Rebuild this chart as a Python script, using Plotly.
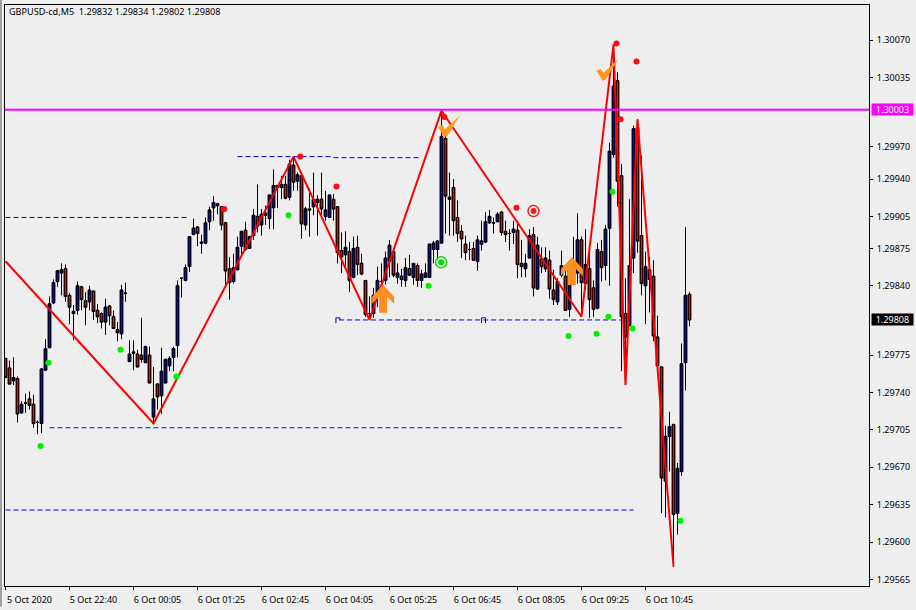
import plotly.graph_objects as go

# Prices are stored as points (1e-5) above 1.29000
opens = [772,763,751,753,721,730,734,729,712,711,
 761,782,824,844,852,856,831,816,817,839,
 826,825,835,817,814,806,821,811,799,795,
 833,769,778,776,775,768,775,717,748,737,
 749,765,773,784,847,845,858,888,895,881,
 880,900,913,917,914,899,856,844,855,877,
 892,875,887,905,897,908,903,913,932,932,
 935,923,953,938,943,897,912,914,921,921,
 905,904,921,914,873,869,872,848,876,861,
 845,814,814,830,844,845,863,872,848,849,
 845,856,848,859,845,848,848,874,874,880,
 978,923,932,904,891,879,874,875,863,879,
 881,899,899,900,909,891,889,890,892,861,
 856,866,888,837,865,856,864,836,825,850,
 849,818,861,852,883,842,856,838,819,872,
 859,894,963,1032,943,814,803,866,988,887,
 840,855,849,792,764,657,699,710,627,666,768,832]
highs = [772,770,773,755,732,739,741,738,714,763,
 790,830,846,855,861,860,833,822,844,840,
 834,840,835,823,815,828,822,817,806,841,
 843,789,789,780,810,784,783,764,748,782,
 772,774,783,845,848,860,886,903,896,888,
 904,914,924,917,914,900,867,870,886,891,
 900,887,912,935,912,915,925,949,934,943,
 943,958,961,946,945,914,931,946,925,946,
 929,925,926,914,890,891,881,886,887,870,
 845,830,838,858,861,872,883,873,861,856,
 866,869,861,861,855,861,879,882,883,1004,
 982,946,940,920,897,887,881,881,887,901,
 909,911,904,909,910,901,893,901,901,883,
 870,893,895,886,876,876,873,855,847,873,
 858,864,886,908,886,893,876,845,880,883,
 897,974,1066,1040,954,847,921,990,996,962,
 872,867,864,812,764,709,722,711,674,786,895,834]
lows = [754,748,747,712,720,721,724,707,701,702,
 761,782,823,839,831,825,804,789,813,817,
 803,817,808,805,800,794,803,800,788,790,
 825,769,761,764,768,768,749,711,724,720,
 749,760,760,773,829,844,853,888,877,870,
 879,892,901,907,892,841,827,842,855,869,
 873,875,883,890,887,897,893,893,913,921,
 921,920,929,929,884,892,886,906,887,906,
 901,904,901,861,852,855,834,847,850,850,
 811,808,810,820,827,841,848,848,842,839,
 839,850,841,839,838,848,848,861,864,880,
 889,887,887,881,866,864,864,864,854,873,
 880,898,889,900,887,881,873,879,847,848,
 848,866,830,836,852,853,828,822,822,848,
 817,811,848,842,811,836,810,811,818,844,
 845,840,960,914,760,747,802,852,871,831,
 804,815,788,763,627,623,666,577,607,662,742,802]
closes = [754,748,754,720,729,730,728,711,712,762,
 781,823,843,854,855,830,820,814,840,827,
 820,836,816,811,806,820,812,800,796,836,
 833,776,777,764,771,783,749,734,736,760,
 771,772,781,840,847,857,886,894,889,880,
 899,911,918,915,897,854,843,857,876,891,
 874,886,906,896,907,906,925,934,934,935,
 922,954,937,944,898,912,911,921,918,912,
 911,925,912,871,867,876,845,875,860,851,
 813,814,831,845,844,866,878,850,852,846,
 857,850,861,845,851,852,879,880,882,980,
 924,921,901,889,884,871,874,864,883,882,
 900,905,899,907,890,888,889,893,860,858,
 861,887,838,878,858,866,837,827,844,859,
 817,855,852,883,843,860,827,818,874,857,
 893,966,1027,938,811,792,859,987,882,842,
 858,846,793,765,660,699,708,626,669,767,831,808]

zigzag_bar = [0,37,72,91,109,144,152,155,158,167]
zigzag_pts = [863,711,961,808,1004,811,1066,747,996,577]

red_dot_bar = [54.7,73.7,82.75,109.7,127.75,152.75,153.75,157.75]
red_dot_pts = [912,961,933,998,913,1067,996,1050]
green_dot_bar = [8.75,10.75,28.75,42.75,70.75,105.75,140.75,147.75,150.75,151.75,156.75,168.75]
green_dot_pts = [690,768,780,755,906,840,793,795,811,928,800,620]

# level, first bar, last bar
levels = [(904,0,45.5),(961,58,81.5),(960,82,104),(808,83.4,154),(707,11,154),(630,0,157)]
resistance = 1005
last_price = 808

time_ticks = [0,16,32,48,64,80,96,112,128,144,160]
time_labels = ["5 Oct 2020","5 Oct 22:40","6 Oct 00:05","6 Oct 01:25","6 Oct 02:45","6 Oct 04:05",
               "6 Oct 05:25","6 Oct 06:45","6 Oct 08:05","6 Oct 09:25","6 Oct 10:45"]
price_ticks = [1.30070,1.30035,1.29970,1.29940,1.29905,1.29875,1.29840,1.29775,1.29740,1.29705,
               1.29670,1.29635,1.29600,1.29565]

def pr(v):
    return 1.29 + v / 1e5

FONT = "Noto Sans"
bars = list(range(len(opens)))
O, H, L, C = [list(map(pr, a)) for a in (opens, highs, lows, closes)]
black = dict(color="#000000", width=1)

fig = go.Figure()
# wicks first, then the zigzag, then the bodies above it
fig.add_trace(go.Candlestick(x=bars, open=O, high=H, low=L, close=C, whiskerwidth=0,
    increasing=dict(line=black, fillcolor="#0000ff"),
    decreasing=dict(line=black, fillcolor="#ff0000")))
fig.add_trace(go.Scatter(x=zigzag_bar, y=list(map(pr, zigzag_pts)), mode="lines",
    line=dict(color="#ff0000", width=2)))
fig.add_trace(go.Candlestick(x=bars, open=O, close=C,
    high=[max(a, b) for a, b in zip(O, C)], low=[min(a, b) for a, b in zip(O, C)], whiskerwidth=0,
    increasing=dict(line=black, fillcolor="#0000ff"),
    decreasing=dict(line=black, fillcolor="#ff0000")))
for lv, a, b in levels:
    fig.add_trace(go.Scatter(x=[a, b], y=[pr(lv), pr(lv)], mode="lines",
        line=dict(color="#0000ff", width=1, dash="5px,3px")))
fig.add_trace(go.Scatter(x=[82.6, 82.6, 83.6, 83.6], y=[pr(805), pr(810), pr(810), pr(808)], mode="lines",
    line=dict(color="#0000ff", width=1)))
fig.add_trace(go.Scatter(x=[119, 119, 120, 120], y=[pr(805), pr(810), pr(810), pr(805)], mode="lines",
    line=dict(color="#0000ff", width=1)))
fig.add_trace(go.Scatter(x=red_dot_bar, y=list(map(pr, red_dot_pts)), mode="markers",
    marker=dict(color="#ff0a14", size=6)))
fig.add_trace(go.Scatter(x=green_dot_bar, y=list(map(pr, green_dot_pts)), mode="markers",
    marker=dict(color="#00f000", size=6)))
for bar, pts, col in [(108.9, 862, "#00e000"), (132, 910, "#f02020")]:
    fig.add_trace(go.Scatter(x=[bar], y=[pr(pts)], mode="markers",
        marker=dict(color="rgba(255,255,255,0.5)", size=11, line=dict(color=col, width=1.5))))
    fig.add_trace(go.Scatter(x=[bar], y=[pr(pts)], mode="markers",
        marker=dict(color=col, size=6)))

shapes = [dict(type="line", xref="paper", x0=0, x1=1, yref="y", y0=pr(resistance), y1=pr(resistance),
               line=dict(color="#ff00ff", width=2)),
          dict(type="rect", xref="paper", x0=-5/864, x1=-3/864, yref="paper", y0=-21/585, y1=1.01,
               fillcolor="#a0a0a0", line=dict(width=0), layer="below")]
arrow = "M0,0 L11,-12 L11,-19 L4,-12 L4,-28 L-4,-28 L-4,-12 L-11,-19 L-11,-12 Z"
check = "M-7,9 L-3,11 L0,7 L15,21 L2,0 L-1,-1 Z"
for bar, pts in [(94.4, 841), (141.6, 867)]:
    fig.add_shape(type="path", path=arrow, xsizemode="pixel", ysizemode="pixel", xref="x", yref="y",
        xanchor=bar, yanchor=pr(pts), fillcolor="#ff9020", line=dict(width=0))
for bar, pts in [(109.9, 980), (149.5, 1033)]:
    fig.add_shape(type="path", path=check, xsizemode="pixel", ysizemode="pixel", xref="x", yref="y",
        xanchor=bar, yanchor=pr(pts), fillcolor="#ff9a20", line=dict(width=0))

annotations = [
    dict(text="GBPUSD-cd,M5\u00a0\u00a01.29832 1.29834 1.29802 1.29808", xref="paper", yref="paper",
         x=0, y=1, xanchor="left", yanchor="top", xshift=2, yshift=2, showarrow=False,
         font=dict(family=FONT, size=9.1, color="#000000")),
    dict(text="1.30003", xref="paper", yref="y", x=1, y=pr(resistance), xanchor="left", yanchor="middle",
         xshift=2, showarrow=False, width=41, height=11, bgcolor="#ff00ff", borderpad=0,
         font=dict(family=FONT, size=9, color="#ffffff")),
    dict(text="1.29808", xref="paper", yref="y", x=1, y=pr(last_price), xanchor="left", yanchor="middle",
         xshift=2, showarrow=False, width=41, height=11, bgcolor="#000000", borderpad=0,
         font=dict(family=FONT, size=9, color="#ffffff")),
]

fig.update_layout(
    width=916, height=610, margin=dict(l=5, r=47, t=4, b=21, pad=0),
    paper_bgcolor="#efefef", plot_bgcolor="#eeeeee", showlegend=False,
    boxmode="overlay", boxgap=0.38, boxgroupgap=0,
    shapes=list(fig.layout.shapes) + shapes, annotations=annotations,
    font=dict(family=FONT, size=9, color="#000000"),
    xaxis=dict(range=[-0.125, 215.875], rangeslider=dict(visible=False), showgrid=False, zeroline=False,
               tickmode="array", tickvals=time_ticks, ticktext=time_labels, ticks="outside", ticklen=3,
               tickcolor="#000000", showline=True, linecolor="#000000", linewidth=1, mirror=True,
               ticklabelshift=24, ticklabelstandoff=2),
    yaxis=dict(range=[pr(558.8), pr(1103)], side="right", showgrid=False, zeroline=False,
               tickmode="array", tickvals=price_ticks, tickformat=".5f", ticks="outside", ticklen=3,
               ticklabelstandoff=2,
               tickcolor="#000000", showline=True, linecolor="#000000", linewidth=1, mirror=True),
)
fig.write_html("out.html", config=dict(displayModeBar=False),
               post_script="document.body.style.margin='0';document.body.style.overflow='hidden';")
